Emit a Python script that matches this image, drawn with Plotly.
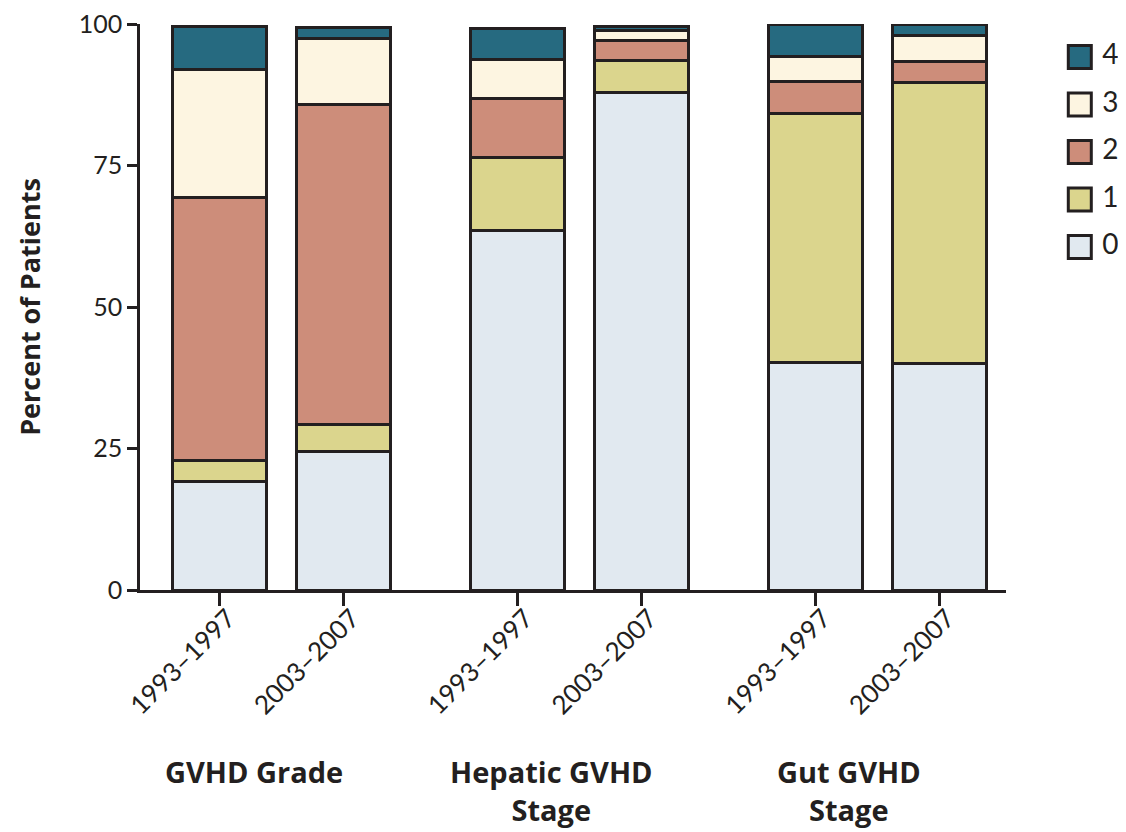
import plotly.graph_objects as go

# ---- data ----
periods = ["1993\u20131997", "2003\u20132007", "1993\u20131997", "2003\u20132007", "1993\u20131997", "2003\u20132007"]
bar_pos = [0.0, 1.0, 2.4, 3.4, 4.8, 5.8]
group_labels = ["GVHD Grade", "Hepatic GVHD<br>Stage", "Gut GVHD<br>Stage"]
group_centers = [0.5, 2.9, 5.3]

levels = ["0", "1", "2", "3", "4"]
level0 = [19.1, 24.4, 63.5, 87.9, 40.2, 40.1]
level1 = [3.8, 4.8, 13.0, 5.6, 44.0, 49.6]
level2 = [46.5, 56.6, 10.4, 3.6, 5.7, 3.6]
level3 = [22.5, 11.6, 6.8, 1.8, 4.4, 4.7]
level4 = [7.6, 1.9, 5.5, 0.7, 5.7, 2.0]
series = [level0, level1, level2, level3, level4]
colors = ["#E1E9F0", "#DBD58D", "#CD8D7A", "#FDF5E1", "#266A80"]

y_ticks = [0, 25, 50, 75, 100]

INK = "#231F20"
FONT = "Lato"
BOLD_FONT = "Open Sans"

fig = go.Figure()
for name, vals, col in zip(levels, series, colors):
    fig.add_trace(go.Bar(
        x=bar_pos, y=vals, name=name, width=0.758,
        marker=dict(color=col, line=dict(color=INK, width=3)),
        cliponaxis=False, showlegend=False, hoverinfo="y+name",
    ))

# custom legend on a small side axis
leg_idx = list(range(len(levels)))
fig.add_trace(go.Scatter(
    x=[0.3] * len(levels), y=leg_idx, mode="markers+text",
    text=[" " + l for l in levels], textposition="middle right",
    textfont=dict(family=FONT, size=28, color=INK),
    marker=dict(symbol="square", size=23, color=colors, line=dict(color=INK, width=3)),
    xaxis="x2", yaxis="y2", showlegend=False, hoverinfo="skip", cliponaxis=False,
))

# page is rendered with an 8px body margin; figure coords = page coords - 8
W, H = 1118, 824
L, R, T, B = 132, 0, 16, 242
pw = W - L - R
dom_end = (998 - L) / pw

fig.update_layout(
    width=W, height=H,
    margin=dict(l=L, r=R, t=T, b=B),
    barmode="stack",
    plot_bgcolor="white", paper_bgcolor="white",
    font=dict(family=FONT, color=INK, size=25),
    xaxis=dict(
        domain=[0, dom_end],
        range=[-0.645, 6.339],
        tickmode="array", tickvals=bar_pos, ticktext=periods,
        tickangle=-45, ticks="",
        minor=dict(tickmode="array", tickvals=bar_pos, ticks="outside", ticklen=13,
                   tickwidth=2.5, tickcolor=INK, showgrid=False),
        showline=True, linecolor=INK, linewidth=2.5,
        showgrid=False, zeroline=False,
        ticklabelshift=8,
        tickfont=dict(family=FONT, size=26, color=INK),
    ),
    yaxis=dict(
        range=[0, 100],
        tickmode="array", tickvals=y_ticks,
        ticks="outside", ticklen=10, tickwidth=2.5, tickcolor=INK,
        showline=True, linecolor=INK, linewidth=2.5,
        showgrid=False, zeroline=False,
        ticklabeloverflow="allow",
        tickfont=dict(family=FONT, size=25, color=INK),
        title=dict(text="<b>Percent of Patients</b>", font=dict(family=BOLD_FONT, size=27, color=INK), standoff=31),
    ),
    xaxis2=dict(domain=[(1052 - L) / pw, 1.0], range=[0, 1], visible=False, fixedrange=True),
    yaxis2=dict(domain=[0, 1], range=[4.695 - 11.916, 4.695], visible=False, fixedrange=True,
                anchor="x2"),
)

for lab, cx in zip(group_labels, group_centers):
    fig.add_annotation(
        x=cx, xref="x", y=0, yref="paper", yanchor="top", xanchor="center",
        yshift=-160, xshift=-28, text="<b>" + lab + "</b>", showarrow=False,
        font=dict(family=BOLD_FONT, size=29, color=INK), align="center",
    )

fig.write_html("out.html")
